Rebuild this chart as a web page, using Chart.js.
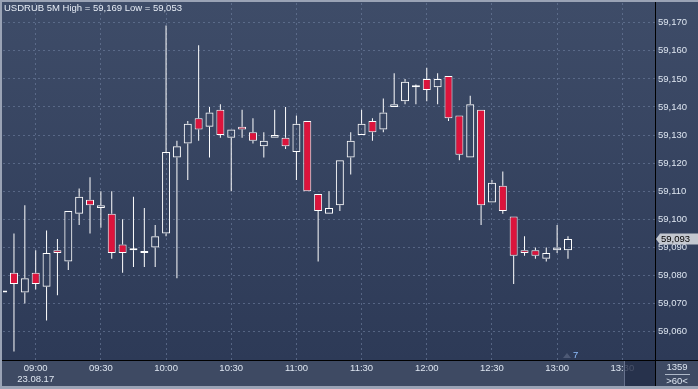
<!DOCTYPE html>
<html>
<head>
<meta charset="utf-8">
<script src="https://cdn.jsdelivr.net/npm/chart.js@4.4.1/dist/chart.umd.min.js"></script>
<style>
  html, body { margin: 0; padding: 0; background: #9aa3b5; }
  #wrap { width: 698px; height: 389px; }
</style>
</head>
<body>
<div id="wrap"><canvas id="chart" width="698" height="389"></canvas></div>
<script>
// 5 minute candles, 23.08.17
const times = ['08:45', '08:50', '08:55', '09:00', '09:05', '09:10', '09:15', '09:20', '09:25', '09:30',
  '09:35', '09:40', '09:45', '09:50', '09:55', '10:00', '10:05', '10:10', '10:15', '10:20',
  '10:25', '10:30', '10:35', '10:40', '10:45', '10:50', '10:55', '11:00', '11:05', '11:10',
  '11:15', '11:20', '11:25', '11:30', '11:35', '11:40', '11:45', '11:50', '11:55', '12:00',
  '12:05', '12:10', '12:15', '12:20', '12:25', '12:30', '12:35', '12:40', '12:45', '12:50',
  '12:55', '13:00', '13:05'];
const opens = [59.074, 59.081, 59.074, 59.081, 59.076, 59.089, 59.085, 59.102, 59.107, 59.104,
  59.102, 59.091, 59.089, 59.088, 59.090, 59.095, 59.122, 59.127, 59.136, 59.133,
  59.139, 59.129, 59.133, 59.131, 59.126, 59.129, 59.129, 59.124, 59.135, 59.109,
  59.102, 59.105, 59.122, 59.130, 59.135, 59.132, 59.140, 59.142, 59.147, 59.150,
  59.147, 59.151, 59.137, 59.122, 59.139, 59.106, 59.112, 59.101, 59.089, 59.089,
  59.086, 59.089, 59.089];
const highs = [59.074, 59.095, 59.105, 59.089, 59.096, 59.093, 59.103, 59.111, 59.115, 59.110,
  59.110, 59.100, 59.108, 59.104, 59.098, 59.169, 59.128, 59.135, 59.162, 59.140,
  59.141, 59.132, 59.139, 59.136, 59.131, 59.139, 59.140, 59.137, 59.135, 59.109,
  59.110, 59.121, 59.131, 59.139, 59.136, 59.143, 59.152, 59.150, 59.148, 59.154,
  59.152, 59.151, 59.137, 59.144, 59.139, 59.114, 59.117, 59.101, 59.094, 59.090,
  59.090, 59.098, 59.094];
const lows = [59.074, 59.053, 59.070, 59.075, 59.064, 59.073, 59.082, 59.098, 59.095, 59.097,
  59.086, 59.081, 59.083, 59.083, 59.083, 59.094, 59.079, 59.114, 59.128, 59.122,
  59.129, 59.110, 59.129, 59.127, 59.122, 59.129, 59.125, 59.114, 59.110, 59.085,
  59.102, 59.103, 59.116, 59.130, 59.128, 59.131, 59.140, 59.141, 59.141, 59.142,
  59.141, 59.135, 59.121, 59.122, 59.098, 59.106, 59.102, 59.077, 59.087, 59.086,
  59.085, 59.088, 59.086];
const closes = [59.074, 59.077, 59.079, 59.077, 59.088, 59.088, 59.103, 59.108, 59.105, 59.105,
  59.088, 59.088, 59.089, 59.088, 59.094, 59.124, 59.126, 59.134, 59.132, 59.138,
  59.130, 59.132, 59.132, 59.128, 59.128, 59.130, 59.126, 59.134, 59.110, 59.103,
  59.104, 59.121, 59.128, 59.134, 59.131, 59.138, 59.141, 59.149, 59.147, 59.146,
  59.150, 59.136, 59.123, 59.141, 59.105, 59.113, 59.103, 59.087, 59.088, 59.087,
  59.088, 59.090, 59.093];

const yTickValues = [59.060, 59.070, 59.080, 59.090, 59.100, 59.110, 59.120, 59.130, 59.140, 59.150, 59.160, 59.170];
const xTickLabels = ['09:00', '09:30', '10:00', '10:30', '11:00', '11:30', '12:00', '12:30', '13:00', '13:30'];
const dateLabel = '23.08.17';
const symbolTitle = 'USDRUB 5M';
const barsCount = '1359';
const zoomLabel = '>60<';
const signalCount = '7';

const FONT = 'Liberation Sans';
const TEXT = '#dde5f0';
const RED = '#dc143c';

const toMin = t => { const [h, m] = t.split(':').map(Number); return h * 60 + m - 540; };
const fmt = v => v.toFixed(3).replace('.', ',');

const xs = times.map(toMin);
const bodies = xs.map((x, i) => ({ x, y: [opens[i], closes[i]] }));
const upperWicks = xs.map((x, i) => ({ x, y: [Math.max(opens[i], closes[i]), highs[i]] }));
const lowerWicks = xs.map((x, i) => ({ x, y: [lows[i], Math.min(opens[i], closes[i])] }));
const isDown = i => closes[i] < opens[i];

const wickStyle = {
  type: 'bar', grouped: false, barThickness: 1, backgroundColor: '#ffffff',
  borderWidth: 0, inflateAmount: 0, order: 2
};

const frame = {
  id: 'frame',
  beforeDraw(chart) {
    const { ctx, width, height, chartArea: a } = chart;
    ctx.save();
    ctx.fillStyle = '#9aa3b5';
    ctx.fillRect(0, 0, width, height);
    const g = ctx.createLinearGradient(0, a.top, 0, a.bottom);
    g.addColorStop(0, '#3e4c68');
    g.addColorStop(1, '#2d3a57');
    ctx.fillStyle = g;
    ctx.fillRect(2, 2, width - 2, a.bottom - 2);
    ctx.fillStyle = '#3e4a63';
    ctx.fillRect(2, a.bottom, width - 2, 386 - a.bottom);
    ctx.restore();
  },
  afterDraw(chart) {
    const { ctx, width, chartArea: a, scales } = chart;
    ctx.save();
    // dark box at the right end of the time axis
    ctx.fillStyle = 'rgba(34,44,70,0.8)';
    ctx.fillRect(625, a.bottom + 1, a.right - 625, 386 - a.bottom - 1);
    ctx.fillStyle = '#66718c';
    ctx.fillRect(624, a.bottom + 1, 1, 386 - a.bottom - 1);

    // black separators
    ctx.fillStyle = '#000000';
    ctx.fillRect(a.right, 2, 1, 384);
    ctx.fillRect(2, a.bottom, width - 2, 1);

    ctx.font = '9.5px "' + FONT + '"';
    ctx.textBaseline = 'middle';

    // title
    const hi = Math.max(...highs), lo = Math.min(...lows);
    ctx.fillStyle = '#e6ecf5';
    ctx.textAlign = 'left';
    ctx.fillText(symbolTitle + ' High = ' + fmt(hi) + ' Low = ' + fmt(lo), 4, 8.5);

    // last price tag
    const last = closes[closes.length - 1];
    const py = scales.y.getPixelForValue(last);
    ctx.fillStyle = '#c3c7cf';
    ctx.beginPath();
    ctx.moveTo(656, py);
    ctx.lineTo(660, py - 5.5);
    ctx.lineTo(698, py - 5.5);
    ctx.lineTo(698, py + 5.5);
    ctx.lineTo(660, py + 5.5);
    ctx.closePath();
    ctx.fill();
    ctx.fillStyle = '#000000';
    ctx.fillText(fmt(last), 661, py + 0.5);

    // corner panel
    ctx.fillStyle = TEXT;
    ctx.textAlign = 'center';
    ctx.fillText(barsCount, 677, 367.5);
    ctx.fillText(zoomLabel, 677, 381);
    ctx.fillStyle = '#aeb8c8';
    ctx.fillRect(665, 374, 25, 1);

    // signal marker
    ctx.fillStyle = '#4d5975';
    ctx.beginPath();
    ctx.moveTo(563, 358);
    ctx.lineTo(567, 353);
    ctx.lineTo(571, 358);
    ctx.closePath();
    ctx.fill();
    ctx.fillStyle = '#8fbfff';
    ctx.textAlign = 'left';
    ctx.fillText(signalCount, 573, 355.5);
    ctx.restore();
  }
};

new Chart(document.getElementById('chart'), {
  type: 'bar',
  data: {
    datasets: [
      {
        data: bodies,
        grouped: false,
        barThickness: 8,
        minBarLength: 2,
        borderWidth: 1,
        borderColor: '#ffffff',
        borderSkipped: false,
        inflateAmount: 0,
        backgroundColor: c => isDown(c.dataIndex) ? RED : 'rgba(0,0,0,0)',
        order: 1
      },
      Object.assign({ data: upperWicks }, wickStyle),
      Object.assign({ data: lowerWicks }, wickStyle)
    ]
  },
  options: {
    responsive: false,
    animation: false,
    devicePixelRatio: 1,
    layout: { padding: { left: 3, top: 3, right: 0, bottom: 3 }, autoPadding: false },
    plugins: { legend: { display: false }, tooltip: { enabled: false } },
    scales: {
      x: {
        type: 'linear',
        offset: false,
        bounds: 'data',
        min: -15.05,
        max: 285.05,
        afterFit: s => { s.height = 26; s.paddingLeft = 0; s.paddingRight = 0; },
        afterBuildTicks: s => { s.ticks = xTickLabels.map(toMin).map(value => ({ value })); },
        grid: { color: 'rgba(112,128,160,0.6)', drawTicks: false, offset: false },
        border: { display: false, dash: [2, 3] },
        ticks: {
          autoSkip: false,
          maxRotation: 0,
          padding: 3,
          color: TEXT,
          font: { family: FONT, size: 9.5, lineHeight: 1.15 },
          callback: (v, i) => i === 0 ? [xTickLabels[i], dateLabel] : xTickLabels[i]
        }
      },
      y: {
        type: 'linear',
        position: 'right',
        bounds: 'data',
        min: 59.04993,
        max: 59.17701,
        afterFit: s => { s.width = 43; s.paddingTop = 0; s.paddingBottom = 0; },
        afterBuildTicks: s => { s.ticks = yTickValues.map(value => ({ value })); },
        grid: { color: 'rgba(112,128,160,0.6)', drawTicks: false },
        border: { display: false, dash: [2, 3] },
        ticks: {
          padding: 3,
          color: TEXT,
          font: { family: FONT, size: 9.5 },
          callback: v => fmt(v)
        }
      }
    }
  },
  plugins: [frame]
});
</script>
</body>
</html>
